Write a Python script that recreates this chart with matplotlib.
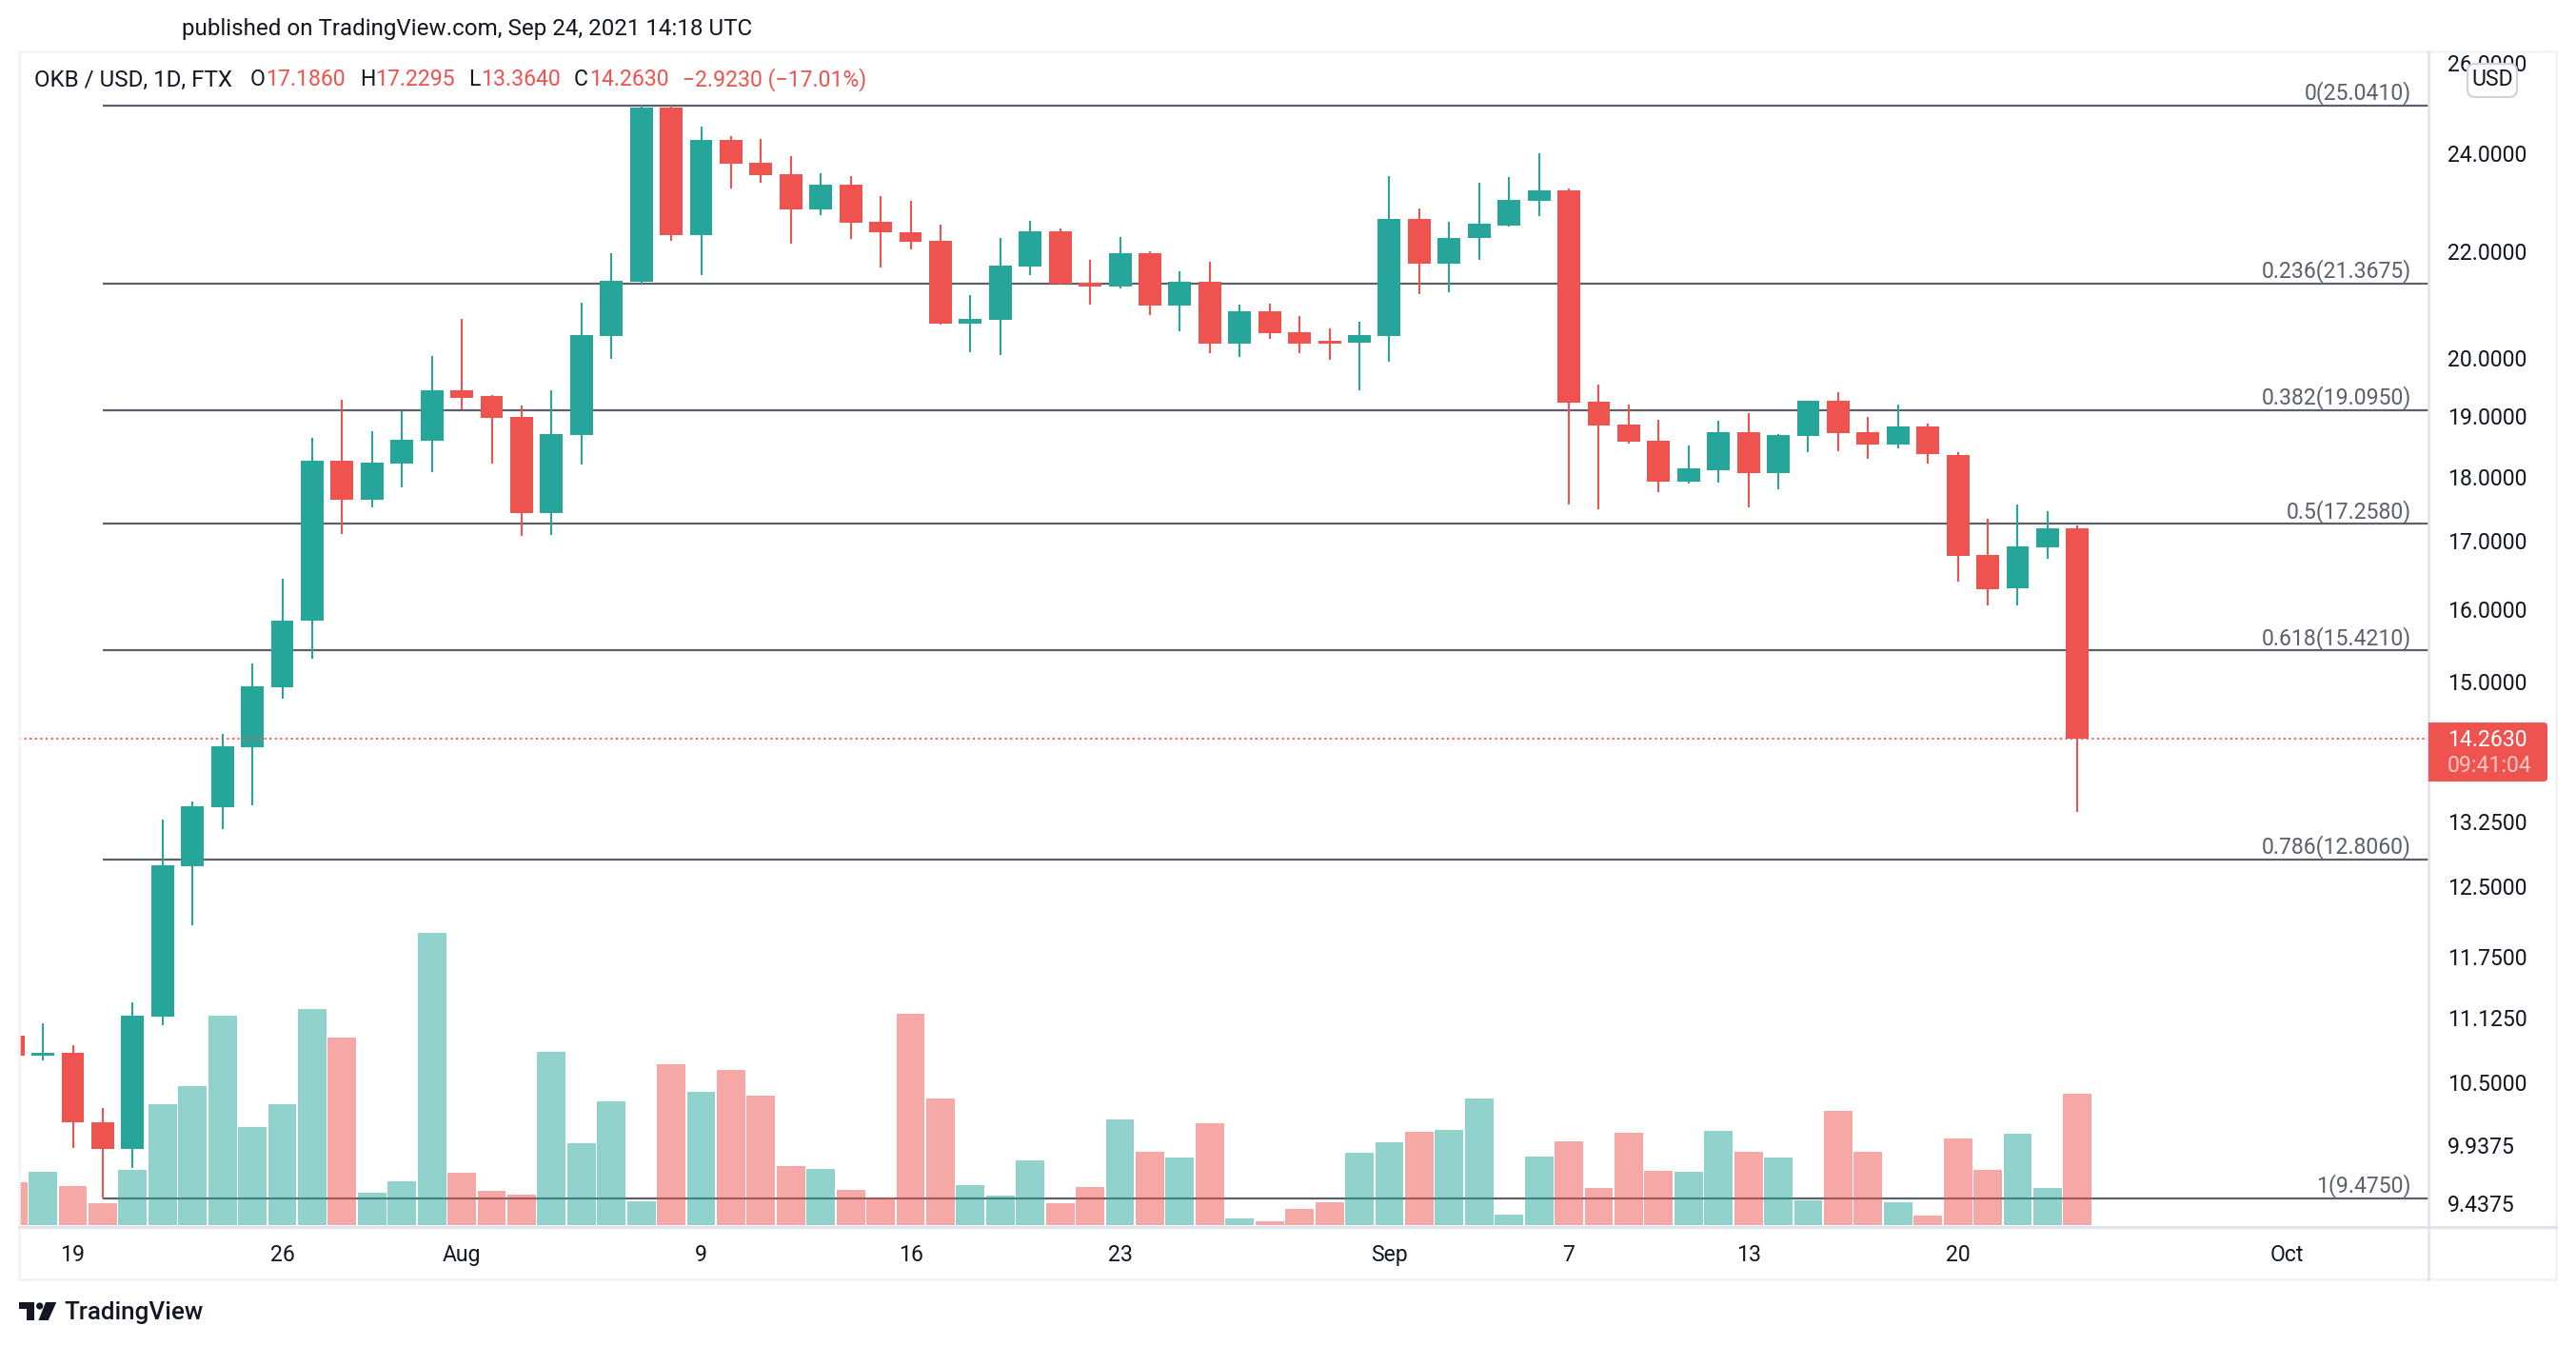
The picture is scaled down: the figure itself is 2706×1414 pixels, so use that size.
import matplotlib
matplotlib.use("Agg")
import matplotlib.pyplot as plt
from matplotlib.lines import Line2D
from matplotlib.patches import Rectangle, FancyBboxPatch, Circle, Polygon
from matplotlib.ticker import NullLocator
from matplotlib.transforms import IdentityTransform, blended_transform_factory

plt.rcParams['font.family'] = ['Roboto', 'DejaVu Sans']

UP = "#26a69a"
DOWN = "#ef5350"
TEXT = "#131722"
FIB = "#5d606b"
BORDER = "#f0f3fa"
AXIS_LINE = "#e0e3eb"

# days counted from Jul 19, first candle is cut by the left edge
days = list(range(-2, 68))

opens = [10.95, 10.76, 10.78, 10.14, 9.90, 11.14, 12.73, 13.42, 14.15, 14.93,
         15.83, 18.26, 17.64, 18.21, 18.59, 19.44, 19.33, 18.98, 17.42, 18.68,
         20.40, 21.41, 24.98, 22.32, 24.29, 23.80, 23.56, 22.83, 23.34, 22.58,
         22.37, 22.19, 20.62, 20.69, 21.69, 22.39, 21.39, 21.31, 21.96, 20.96,
         21.41, 20.26, 20.85, 20.47, 20.31, 20.28, 20.40, 22.63, 21.75, 22.26,
         22.51, 23.01, 23.22, 19.24, 18.86, 18.58, 17.92, 18.10, 18.73, 18.06,
         18.66, 19.26, 18.73, 18.52, 18.82, 18.35, 16.79, 16.30, 16.90, 17.186]
highs = [10.95, 11.07, 10.86, 10.27, 11.28, 13.27, 13.48, 14.32, 15.25, 16.44,
         18.63, 19.28, 18.74, 19.07, 20.04, 20.71, 19.36, 19.18, 19.44, 21.01,
         21.96, 25.04, 25.04, 24.58, 24.37, 24.31, 23.94, 23.58, 23.52, 23.10,
         23.01, 22.52, 21.16, 22.26, 22.60, 22.45, 21.83, 22.28, 22.00, 21.60,
         21.78, 20.98, 21.00, 20.76, 20.54, 20.66, 23.52, 22.85, 22.58, 23.37,
         23.50, 24.00, 23.26, 19.54, 19.19, 18.94, 18.51, 18.92, 19.04, 18.70,
         19.26, 19.41, 18.98, 19.19, 18.87, 18.40, 17.34, 17.56, 17.45, 17.2295]
lows = [10.76, 10.71, 9.91, 9.475, 9.73, 11.05, 12.08, 13.16, 13.44, 14.77,
        15.31, 17.11, 17.51, 17.83, 18.07, 19.11, 18.21, 17.08, 17.09, 18.19,
        19.99, 21.37, 22.19, 21.54, 23.26, 23.38, 22.15, 22.72, 22.24, 21.68,
        22.03, 20.60, 20.11, 20.06, 21.54, 21.35, 20.98, 21.28, 20.78, 20.48,
        20.08, 20.02, 20.35, 20.09, 19.97, 19.44, 19.94, 21.17, 21.21, 21.83,
        22.49, 22.70, 17.56, 17.49, 18.54, 17.76, 17.89, 17.91, 17.51, 17.80,
        18.40, 18.41, 18.29, 18.45, 18.21, 16.40, 16.05, 16.05, 16.73, 13.364]
closes = [10.76, 10.78, 10.14, 9.90, 11.15, 12.74, 13.43, 14.16, 14.94, 15.84,
          18.26, 17.64, 18.23, 18.60, 19.44, 19.31, 18.97, 17.42, 18.70, 20.42,
          21.43, 24.98, 22.32, 24.29, 23.78, 23.54, 22.83, 23.34, 22.56, 22.36,
          22.17, 20.62, 20.71, 21.71, 22.39, 21.37, 21.31, 21.96, 20.96, 21.41,
          20.26, 20.85, 20.45, 20.26, 20.26, 20.42, 22.63, 21.75, 22.26, 22.53,
          23.03, 23.22, 19.23, 18.84, 18.56, 17.92, 18.13, 18.73, 18.06, 18.68,
          19.26, 18.71, 18.52, 18.82, 18.37, 16.78, 16.29, 16.92, 17.19, 14.263]
volumes = [45, 56, 41, 23, 58, 127, 146, 220, 103, 127,
           227, 197, 34, 46, 307, 55, 36, 32, 182, 86,
           130, 25, 169, 140, 163, 136, 62, 59, 37, 29,
           222, 133, 42, 31, 68, 23, 40, 111, 77, 71,
           107, 7, 4, 17, 24, 76, 87, 98, 100, 133,
           11, 72, 88, 39, 97, 57, 56, 99, 77, 71,
           26, 120, 77, 24, 10, 91, 58, 96, 39, 138]

fib_ratios = ["0", "0.236", "0.382", "0.5", "0.618", "0.786", "1"]
fib_prices = [25.041, 21.3675, 19.095, 17.258, 15.421, 12.806, 9.475]
fib_start = 1

price_ticks = [26, 24, 22, 20, 19, 18, 17, 16, 15, 13.25, 12.5, 11.75, 11.125,
               10.5, 9.9375, 9.4375]
date_ticks = [0, 7, 13, 21, 28, 35, 44, 50, 56, 63, 74]
date_labels = ["19", "26", "Aug", "9", "16", "23", "Sep", "7", "13", "20", "Oct"]
last_price = 14.263

W, H = 2706, 1414
FS = 16.6
FS_HEAD = 17.4

fig = plt.figure(figsize=(W / 100, H / 100), dpi=100, facecolor="white")
pos = [20 / W, 1 - 1288 / H, (2551 - 20) / W, (1288 - 54) / H]
xlim = (-1.798, 78.73)
ylim = (9.244, 26.27)


def fig_text(x, y, s, **kw):
    kw.setdefault("fontsize", FS)
    kw.setdefault("color", TEXT)
    kw.setdefault("va", "center")
    kw.setdefault("zorder", 12)
    fig.text(x / W, 1 - y / H, s, **kw)


def fig_patch(p):
    p.set_transform(IdentityTransform())
    fig.add_artist(p)


# fibonacci lines sit behind the volume bars
ax_fib = fig.add_axes(pos, zorder=1)
ax_fib.set_yscale("log")
ax_fib.set_xlim(*xlim)
ax_fib.set_ylim(*ylim)
ax_fib.axis("off")
label_tr = blended_transform_factory(fig.transFigure, ax_fib.transData)
for ratio, price in zip(fib_ratios, fib_prices):
    ax_fib.plot([fib_start, xlim[1]], [price, price], color=FIB, lw=1.6,
                solid_capstyle="butt")
    ax_fib.annotate(f"{ratio}({price:.4f})", xy=(2533 / W, price), xycoords=label_tr,
                    xytext=(0, 9.5), textcoords="offset points", ha="right", va="center",
                    fontsize=FS, color=FIB)

ax_vol = fig.add_axes(pos, zorder=2, sharex=ax_fib)
ax_vol.patch.set_alpha(0)
ax_vol.axis("off")
ax_vol.set_ylim(-1, 1233)
vol_colors = [UP if c >= o else DOWN for o, c in zip(opens, closes)]
ax_vol.bar(days, volumes, width=0.95, color=vol_colors, alpha=0.5, linewidth=0)

# candles and price scale
ax = fig.add_axes(pos, zorder=3)
ax.patch.set_alpha(0)
ax.set_yscale("log")
ax.set_xlim(*xlim)
ax.set_ylim(*ylim)
for s in ax.spines.values():
    s.set_visible(False)

ax.vlines(days, lows, highs, colors=vol_colors, lw=1.5)
bottoms = [min(o, c) for o, c in zip(opens, closes)]
heights = [abs(o - c) for o, c in zip(opens, closes)]
ax.bar(days, heights, bottom=bottoms, width=0.76, color=vol_colors, linewidth=0)
ax.axhline(last_price, color=DOWN, lw=1.3, linestyle=(0, (1.2, 1.9)))

ax.yaxis.tick_right()
ax.set_yticks(price_ticks)
ax.set_yticklabels([f"{t:.4f}" for t in price_ticks])
ax.yaxis.set_minor_locator(NullLocator())
ax.tick_params(axis="y", length=0, pad=14.4, labelsize=FS, labelcolor=TEXT)
ax.set_xticks(date_ticks)
ax.set_xticklabels(date_labels)
ax.tick_params(axis="x", length=0, pad=14, labelsize=FS, labelcolor=TEXT)

# chart frame
fig_patch(Rectangle((20, H - 1344), 2665, 1344 - 54, fill=False, edgecolor=BORDER, lw=1.8, zorder=5))
fig_patch(Line2D([20, 2685], [H - 1289, H - 1289], color=AXIS_LINE, lw=2.2, zorder=5))
fig_patch(Line2D([2551, 2551], [H - 54, H - 1344], color=AXIS_LINE, lw=1.8, zorder=5))

# currency button over the top tick
fig_patch(FancyBboxPatch((2592, H - 102), 52, 35, boxstyle="round,pad=0,rounding_size=8",
                         facecolor="white", edgecolor="#d1d4dc", lw=1.6, zorder=10))
fig_text(2618, 84, "USD", ha="center")

# last price tag
fig_patch(FancyBboxPatch((2551, H - 821), 125, 62, boxstyle="round,pad=0,rounding_size=4",
                         facecolor=DOWN, edgecolor="none", zorder=10))
fig_patch(Rectangle((2551, H - 821), 30, 62, facecolor=DOWN, edgecolor="none", zorder=10))
fig_text(2571, 778, "14.2630", color="white")
fig_text(2571, 805, "09:41:04", color="#fbc5c4")

# header and legend
fig_text(191, 31, "published on TradingView.com, Sep 24, 2021 14:18 UTC", fontsize=FS_HEAD)
fig_text(36, 84, "OKB / USD, 1D, FTX", fontsize=FS_HEAD)
for x, s, color in [(263, "O", TEXT), (279, "17.1860", DOWN), (378, "H", TEXT), (394, "17.2295", DOWN),
                    (492, "L", TEXT), (505, "13.3640", DOWN), (603, "C", TEXT), (619, "14.2630", DOWN),
                    (717, "\u22122.9230 (\u221217.01%)", DOWN)]:
    fig_text(x, 84, s, color=color)

# logo
fig_patch(Polygon([(20, H - 1368), (36, H - 1368), (36, H - 1387), (27.5, H - 1387),
                   (27.5, H - 1375), (20, H - 1375)], facecolor=TEXT, edgecolor="none", zorder=10))
fig_patch(Circle((41.7, H - 1372), 3.6, facecolor=TEXT, edgecolor="none", zorder=10))
fig_patch(Polygon([(48, H - 1368), (59.3, H - 1368), (50.7, H - 1387), (40.5, H - 1387)],
                  facecolor=TEXT, edgecolor="none", zorder=10))
fig_text(67, 1379, "TradingView", fontsize=18.7, fontweight="medium")

fig.savefig("out.png", dpi=100, facecolor="white")
